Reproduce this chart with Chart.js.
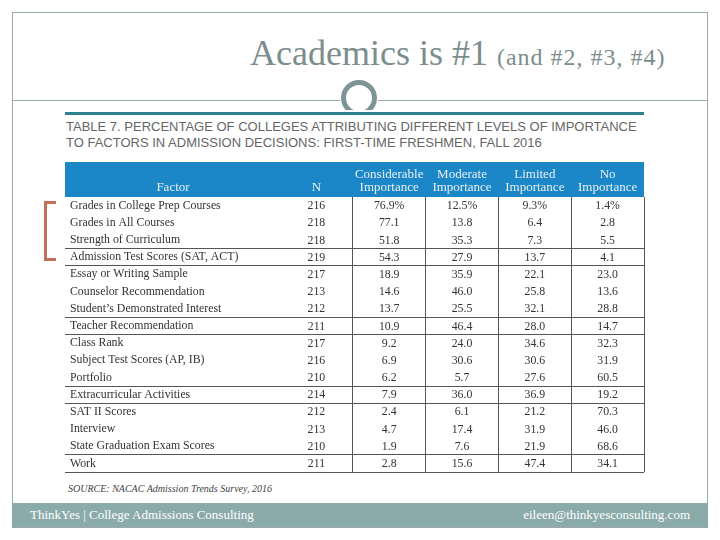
<!DOCTYPE html>
<html>
<head>
<meta charset="utf-8">
<script src="https://cdn.jsdelivr.net/npm/chart.js@4"></script>
<style>
  html, body { margin: 0; padding: 0; background: #fff; }
  #slide { position: relative; width: 720px; height: 540px; overflow: hidden; font-family: "Liberation Serif", serif; }
  .frame { position: absolute; left: 12px; top: 12px; width: 696px; height: 516px; border: 1px solid #9aa9a9; box-sizing: border-box; }
  .title { position: absolute; left: 250px; top: 33px; line-height: 40px; font-size: 36px; color: #7b8d8d; white-space: nowrap; }
  .title small { font-size: 24px; letter-spacing: 1px; }
  .rule { position: absolute; top: 100px; height: 1px; background: #9aa9a9; }
  .ring-clip { position: absolute; left: 340px; top: 78px; width: 40px; height: 32px; overflow: hidden; }
  .ring { position: absolute; left: 1px; top: 2px; width: 36px; height: 36px; border: 5px solid #7f9494; border-radius: 50%; box-sizing: border-box; }
  .teal { position: absolute; left: 65px; top: 112px; width: 579px; height: 3px; background: #2f8091; }
  .caption { position: absolute; left: 66px; top: 119px; font-family: "Liberation Sans", sans-serif; font-size: 13px; line-height: 16px; color: #666; white-space: nowrap; }
  .bracket { position: absolute; left: 44px; top: 201px; width: 12px; height: 60px; border: 3px solid #c2705a; border-right: none; box-sizing: border-box; }
  .source { position: absolute; left: 68px; top: 483px; font-size: 10px; font-style: italic; color: #444; white-space: nowrap; }
  .footer { position: absolute; left: 12px; top: 503px; width: 696px; height: 24px; background: #8aaba9; color: #fff; font-size: 13px; line-height: 24px; }
  .footer .l { position: absolute; left: 18px; }
  .footer .r { position: absolute; right: 18px; }
  canvas { position: absolute; left: 0; top: 0; }
</style>
</head>
<body>
<div id="slide">
  <div class="frame"></div>
  <div class="title">Academics is #1 <small>(and #2, #3, #4)</small></div>
  <div class="rule" style="left:12px; width:328px;"></div>
  <div class="rule" style="left:378px; width:330px;"></div>
  <div class="ring-clip"><div class="ring"></div></div>
  <div class="teal"></div>
  <div class="caption">TABLE 7. PERCENTAGE OF COLLEGES ATTRIBUTING DIFFERENT LEVELS OF IMPORTANCE<br>TO FACTORS IN ADMISSION DECISIONS: FIRST-TIME FRESHMEN, FALL 2016</div>
  <div class="bracket"></div>
  <div class="source">SOURCE: NACAC Admission Trends Survey, 2016</div>
  <div class="footer"><span class="l">ThinkYes | College Admissions Consulting</span><span class="r">eileen@thinkyesconsulting.com</span></div>
  <canvas id="table" width="720" height="540"></canvas>
</div>
<script>
// ---- Data ----
const factors = [
  "Grades in College Prep Courses",
  "Grades in All Courses",
  "Strength of Curriculum",
  "Admission Test Scores (SAT, ACT)",
  "Essay or Writing Sample",
  "Counselor Recommendation",
  "Student\u2019s Demonstrated Interest",
  "Teacher Recommendation",
  "Class Rank",
  "Subject Test Scores (AP, IB)",
  "Portfolio",
  "Extracurricular Activities",
  "SAT II Scores",
  "Interview",
  "State Graduation Exam Scores",
  "Work"
];
const columnLabels = ["N", "Considerable Importance", "Moderate Importance", "Limited Importance", "No Importance"];
const nCounts      = [216, 218, 218, 219, 217, 213, 212, 211, 217, 216, 210, 214, 212, 213, 210, 211];
const considerable = [76.9, 77.1, 51.8, 54.3, 18.9, 14.6, 13.7, 10.9, 9.2, 6.9, 6.2, 7.9, 2.4, 4.7, 1.9, 2.8];
const moderate     = [12.5, 13.8, 35.3, 27.9, 35.9, 46.0, 25.5, 46.4, 24.0, 30.6, 5.7, 36.0, 6.1, 17.4, 7.6, 15.6];
const limited      = [9.3, 6.4, 7.3, 13.7, 22.1, 25.8, 32.1, 28.0, 34.6, 30.6, 27.6, 36.9, 21.2, 31.9, 21.9, 47.4];
const noImportance = [1.4, 2.8, 5.5, 4.1, 23.0, 13.6, 28.8, 14.7, 32.3, 31.9, 60.5, 19.2, 70.3, 46.0, 68.6, 34.1];
// rows after which a rule is drawn (grid line index = row boundary)
const groupBreaks  = [3, 4, 7, 8, 11, 12, 15, 16];

const columns = [nCounts, considerable, moderate, limited, noImportance];

// ---- Styles ----
const S = {
  header:     "#1b87c6",
  headerText: "#e8eff5",
  text:       "#333333",
  rule:       "#555555",
  serif:      "'Liberation Serif', serif",
};

const fmt = (c, r) => {
  const v = columns[c][r];
  if (c === 0) return String(v);
  return v.toFixed(1) + (r === 0 ? "%" : "");
};

const cellText = {
  id: "cellText",
  beforeDraw(chart) {
    const {ctx, chartArea, scales: {x, y}} = chart;
    ctx.save();
    ctx.fillStyle = S.header;
    ctx.fillRect(y.left - 5, x.top, chartArea.right - y.left + 5, x.bottom - x.top);
    ctx.restore();
  },
  afterDatasetsDraw(chart) {
    const {ctx, scales: {x, y}} = chart;
    ctx.save();
    ctx.font = "11.8px " + S.serif;
    ctx.fillStyle = S.text;
    ctx.textAlign = "center";
    ctx.textBaseline = "middle";
    chart.data.datasets.forEach((ds, c) => {
      chart.getDatasetMeta(c).data.forEach((pt, r) => {
        ctx.fillText(fmt(c, r), pt.x, pt.y + 0.5);
      });
    });
    // "Factor" heading sits over the label column
    ctx.font = "13px " + S.serif;
    ctx.fillStyle = S.headerText;
    ctx.fillText("Factor", (y.left + y.right) / 2 - 2, x.bottom - 3 - 6.5);
    ctx.restore();
  }
};

new Chart(document.getElementById("table"), {
  type: "scatter",
  data: {
    datasets: columns.map((vals, c) => ({
      data: vals.map((v, r) => ({x: columnLabels[c], y: factors[r]})),
      pointRadius: 0,
      pointHoverRadius: 0,
    }))
  },
  options: {
    responsive: false,
    animation: false,
    events: [],
    layout: { padding: { left: 70, top: 162, right: 76, bottom: 68 } },
    plugins: { legend: { display: false }, tooltip: { enabled: false } },
    scales: {
      x: {
        type: "category",
        position: "top",
        labels: columnLabels,
        offset: true,
        afterFit: s => { s.height = 35; },
        border: { display: false },
        grid: {
          offset: true,
          drawTicks: false,
          lineWidth: 1,
          color: ctx => ctx.index === 0 ? "transparent" : S.rule,
        },
        ticks: {
          autoSkip: false,
          maxRotation: 0,
          padding: 3,
          color: S.headerText,
          font: { family: S.serif, size: 13, lineHeight: 1.0 },
          callback: function(v) { return this.getLabelForValue(v).split(" "); }
        }
      },
      y: {
        type: "category",
        labels: factors,
        offset: true,
        afterFit: s => { s.width = 210; },
        border: { display: false },
        grid: {
          offset: true,
          drawTicks: true,
          tickLength: 215,
          lineWidth: 1,
          color: ctx => groupBreaks.includes(ctx.index ?? factors.length) ? S.rule : "transparent",
        },
        ticks: {
          autoSkip: false,
          crossAlign: "far",
          color: S.text,
          font: { family: S.serif, size: 11.8 },
        }
      }
    }
  },
  plugins: [cellText]
});
</script>
</body>
</html>
